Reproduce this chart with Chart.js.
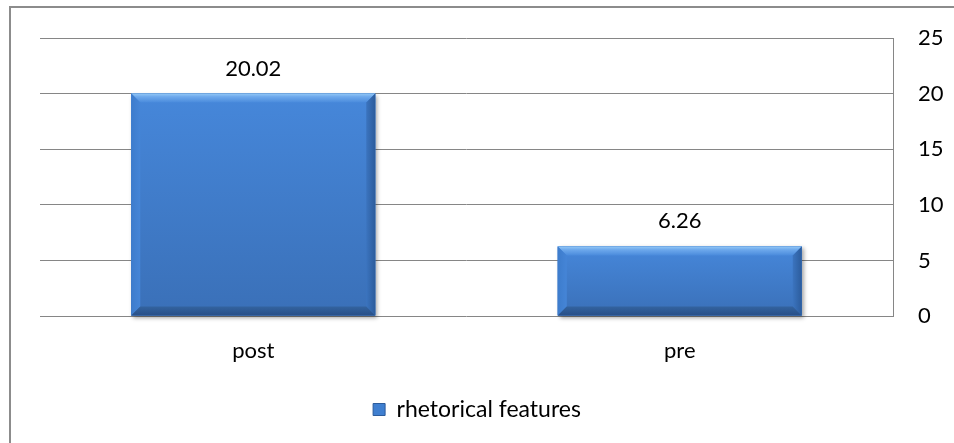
<!DOCTYPE html>
<html>
<head>
<meta charset="utf-8">
<script src="https://cdn.jsdelivr.net/npm/chart.js@4/dist/chart.umd.min.js"></script>
<style>
  html, body { margin: 0; padding: 0; background: #fff; overflow: hidden; }
  #wrap { position: relative; width: 954px; height: 443px; overflow: hidden; }
  #frame { position: absolute; left: 9px; top: 6px; width: 1000px; height: 500px;
           border-left: 2px solid #8c8c8c; border-top: 2px solid #8c8c8c; box-sizing: border-box; }
  #c { position: absolute; left: 0; top: 0; }
</style>
</head>
<body>
<div id="wrap">
  <div id="frame"></div>
  <canvas id="c" width="954" height="443"></canvas>
</div>
<script>
// Chart data
const categories = ['post', 'pre'];
const seriesName = 'rhetorical features';
const seriesValues = [20.02, 6.26];
const yTicks = [0, 5, 10, 15, 20, 25];

const FONT = { family: 'Lato, "Open Sans", sans-serif', size: 22 };
const LEGEND_FONT = { family: 'Lato, "Open Sans", sans-serif', size: 23 };
const GRID = '#868686';

// Soft drop shadow behind each bar
const shadowPlugin = {
  id: 'barShadow',
  beforeDatasetsDraw(chart) {
    const ctx = chart.ctx;
    chart.getDatasetMeta(0).data.forEach(bar => {
      const p = bar.getProps(['x', 'y', 'base', 'width'], true);
      ctx.save();
      ctx.shadowColor = 'rgba(0,0,0,0.35)';
      ctx.shadowBlur = 4;
      ctx.shadowOffsetX = 2;
      ctx.shadowOffsetY = 2;
      ctx.fillStyle = '#3f7bc9';
      ctx.fillRect(p.x - p.width / 2, p.y, p.width, p.base - p.y);
      ctx.restore();
    });
  }
};

// Bevelled face on top of each bar, plus the value label above it
const bevelPlugin = {
  id: 'bevel',
  afterDatasetsDraw(chart) {
    const ctx = chart.ctx;
    const ds = chart.data.datasets[0];
    chart.getDatasetMeta(0).data.forEach((bar, i) => {
      const p = bar.getProps(['x', 'y', 'base', 'width'], true);
      const l = p.x - p.width / 2, r = p.x + p.width / 2, t = p.y, b = p.base;
      const e = Math.min(9, (b - t) / 2);
      ctx.save();
      // face
      let g = ctx.createLinearGradient(0, t, 0, b);
      g.addColorStop(0, '#4687da');
      g.addColorStop(1, '#3a70b8');
      ctx.fillStyle = g;
      ctx.fillRect(l, t, r - l, b - t);
      const poly = (pts, fill) => {
        ctx.beginPath();
        ctx.moveTo(pts[0][0], pts[0][1]);
        for (let k = 1; k < pts.length; k++) ctx.lineTo(pts[k][0], pts[k][1]);
        ctx.closePath();
        ctx.fillStyle = fill;
        ctx.fill();
      };
      // top bevel
      g = ctx.createLinearGradient(0, t, 0, t + e);
      g.addColorStop(0, '#93c8f6');
      g.addColorStop(0.35, '#6ea9ec');
      g.addColorStop(1, '#4a8bdc');
      poly([[l, t], [r, t], [r - e, t + e], [l + e, t + e]], g);
      // left bevel
      g = ctx.createLinearGradient(l, 0, l + e, 0);
      g.addColorStop(0, '#3d7ccc');
      g.addColorStop(1, '#4585d7');
      poly([[l, t], [l + e, t + e], [l + e, b - e], [l, b]], g);
      // right bevel
      g = ctx.createLinearGradient(r - e, 0, r, 0);
      g.addColorStop(0, '#3b74bf');
      g.addColorStop(1, '#2c5c9c');
      poly([[r, t], [r, b], [r - e, b - e], [r - e, t + e]], g);
      // bottom bevel
      g = ctx.createLinearGradient(0, b - e, 0, b);
      g.addColorStop(0, '#33639f');
      g.addColorStop(1, '#284f88');
      poly([[l, b], [l + e, b - e], [r - e, b - e], [r, b]], g);
      ctx.restore();

      // value label
      ctx.save();
      ctx.font = `${FONT.size}px ${FONT.family}`;
      ctx.fillStyle = '#000';
      ctx.textAlign = 'center';
      ctx.textBaseline = 'alphabetic';
      ctx.fillText(ds.data[i].toFixed(2), p.x, t - 18);
      ctx.restore();
    });
  }
};

new Chart(document.getElementById('c'), {
  type: 'bar',
  data: {
    labels: categories,
    datasets: [{
      label: seriesName,
      data: seriesValues,
      xAxisID: 'x',
      yAxisID: 'y',
      backgroundColor: '#4282d4',
      borderWidth: 0,
      categoryPercentage: 1,
      barPercentage: 0.572
    }]
  },
  options: {
    responsive: false,
    animation: false,
    devicePixelRatio: 1,
    layout: { padding: { left: 0, top: 35, right: 0, bottom: 12 } },
    plugins: {
      tooltip: { enabled: false },
      legend: {
        position: 'bottom',
        labels: {
          font: LEGEND_FONT,
          color: '#000',
          boxWidth: 12,
          boxHeight: 12,
          padding: 10,
          generateLabels: () => [{
            text: seriesName,
            fillStyle: '#3f7fd0',
            strokeStyle: '#2c5c9c',
            lineWidth: 1,
            datasetIndex: 0
          }]
        }
      }
    },
    scales: {
      x: {
        grid: { display: false },
        border: { display: false },
        ticks: { font: FONT, color: '#000', padding: 14 },
        afterFit: (s) => { s.height = 72; }
      },
      y: {
        position: 'right',
        min: 0,
        max: 25,
        afterBuildTicks: (s) => { s.ticks = yTicks.map(v => ({ value: v })); },
        grid: { color: GRID, drawTicks: false, lineWidth: 1 },
        border: { display: true, color: GRID, width: 1 },
        ticks: { font: FONT, color: '#000', padding: 25 },
        afterFit: (s) => { s.width = 61; }
      },
      // empty spacer on the left so the plot starts inset from the frame
      spacer: {
        type: 'linear',
        position: 'left',
        min: 0,
        max: 1,
        grid: { display: false },
        border: { display: false },
        ticks: { display: false },
        afterFit: (s) => { s.width = 40; }
      }
    }
  },
  plugins: [shadowPlugin, bevelPlugin]
});
</script>
</body>
</html>
